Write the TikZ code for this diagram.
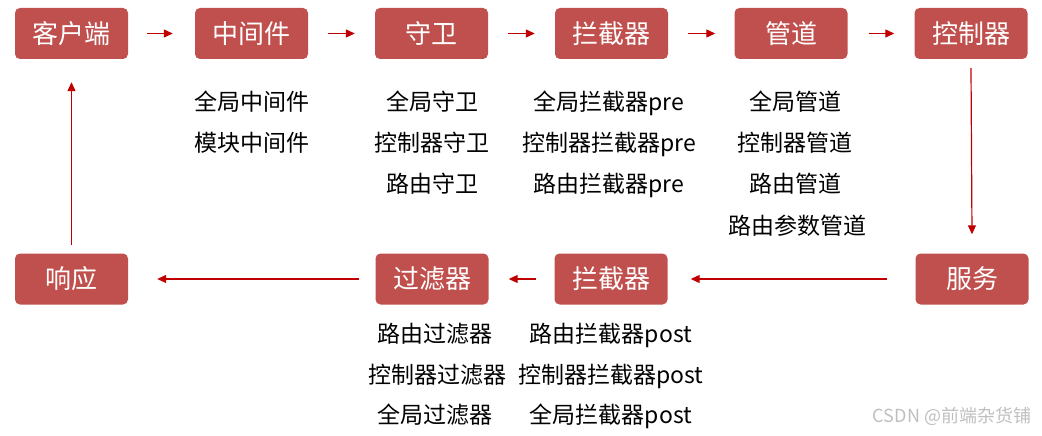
\documentclass[tikz,border=0pt]{standalone}
\usepackage{fontspec}
\setmainfont{Noto Sans CJK SC}
\usetikzlibrary{arrows.meta, positioning}
\usepackage{xcolor}
\definecolor{boxred}{RGB}{192,80,77}
\definecolor{arrowred}{RGB}{192,0,0}

\tikzset{
    stage/.style={fill=boxred, rounded corners=5pt, minimum width=113pt, minimum height=51pt, inner sep=0pt, text=white, font=\fontsize{26}{30}\selectfont},
    item/.style={inner sep=0pt, yshift=-5pt, text height=0.8em, text depth=0.1em, font=\fontsize{23}{28}\selectfont},
    flow/.style={draw=arrowred, line width=1.2pt, -{Triangle[length=9pt, width=8pt]}},
}

\begin{document}
\begin{tikzpicture}[x=1pt, y=-1pt]
    \useasboundingbox (0,0) rectangle (1042,436);
    % top row
    \node[stage] (client) at (71.5,33.5) {客户端};
    \node[stage] (middleware) at (251.5,33.5) {中间件};
    \node[stage] (guard) at (431.5,33.5) {守卫};
    \node[stage] (interpre) at (611.5,33.5) {拦截器};
    \node[stage] (pipe) at (791,33.5) {管道};
    \node[stage] (controller) at (971,33.5) {控制器};
    % bottom row
    \node[stage] (response) at (71.5,279) {响应};
    \node[stage] (filter) at (432,279) {过滤器};
    \node[stage] (interpost) at (611,279) {拦截器};
    \node[stage] (service) at (972,279) {服务};

    % lists
    \node[item] (mw1) at (251.5,102) {全局中间件};
    \node[item] (mw2) at (251.5,143) {模块中间件};
    \node[item] (gd1) at (432,102) {全局守卫};
    \node[item] (gd2) at (432,143) {控制器守卫};
    \node[item] (gd3) at (432,184) {路由守卫};
    \node[item] (ip1) at (609,102) {全局拦截器pre};
    \node[item] (ip2) at (609,143) {控制器拦截器pre};
    \node[item] (ip3) at (609,184) {路由拦截器pre};
    \node[item] (pp1) at (795,102) {全局管道};
    \node[item] (pp2) at (795,143) {控制器管道};
    \node[item] (pp3) at (795,184) {路由管道};
    \node[item] (pp4) at (797,226) {路由参数管道};
    \node[item] (ft1) at (435,334) {路由过滤器};
    \node[item] (ft2) at (437,375) {控制器过滤器};
    \node[item] (ft3) at (435,415) {全局过滤器};
    \node[item] (ps1) at (611,334) {路由拦截器post};
    \node[item] (ps2) at (611,375) {控制器拦截器post};
    \node[item] (ps3) at (611,415) {全局拦截器post};

    % watermark
    \node[inner sep=0pt, text=black!25, font=\fontsize{18}{20}\selectfont] (mark) at (952,416) {CSDN @前端杂货铺};

    % connectors
    \draw[flow] ([xshift=19pt]client.east) -- ([xshift=-22pt]middleware.west);
    \draw[flow] ([xshift=20pt]middleware.east) -- ([xshift=-20pt]guard.west);
    \draw[flow] ([xshift=20pt]guard.east) -- ([xshift=-20pt]interpre.west);
    \draw[flow] ([xshift=20pt]interpre.east) -- ([xshift=-19pt]pipe.west);
    \draw[flow] ([xshift=21pt]pipe.east) -- ([xshift=-20pt]controller.west);
    \draw[flow] ([yshift=-9pt]controller.south) -- ([yshift=19pt]service.north);
    \draw[flow] ([xshift=-28pt]service.west) -- ([xshift=23pt]interpost.east);
    \draw[flow] ([xshift=-18pt]interpost.west) -- ([xshift=20pt]filter.east);
    \draw[flow] ([xshift=-16pt]filter.west) -- ([xshift=29pt]response.east);
    \draw[flow] ([yshift=8pt]response.north) -- ([yshift=-23pt]client.south);
\end{tikzpicture}
\end{document}
